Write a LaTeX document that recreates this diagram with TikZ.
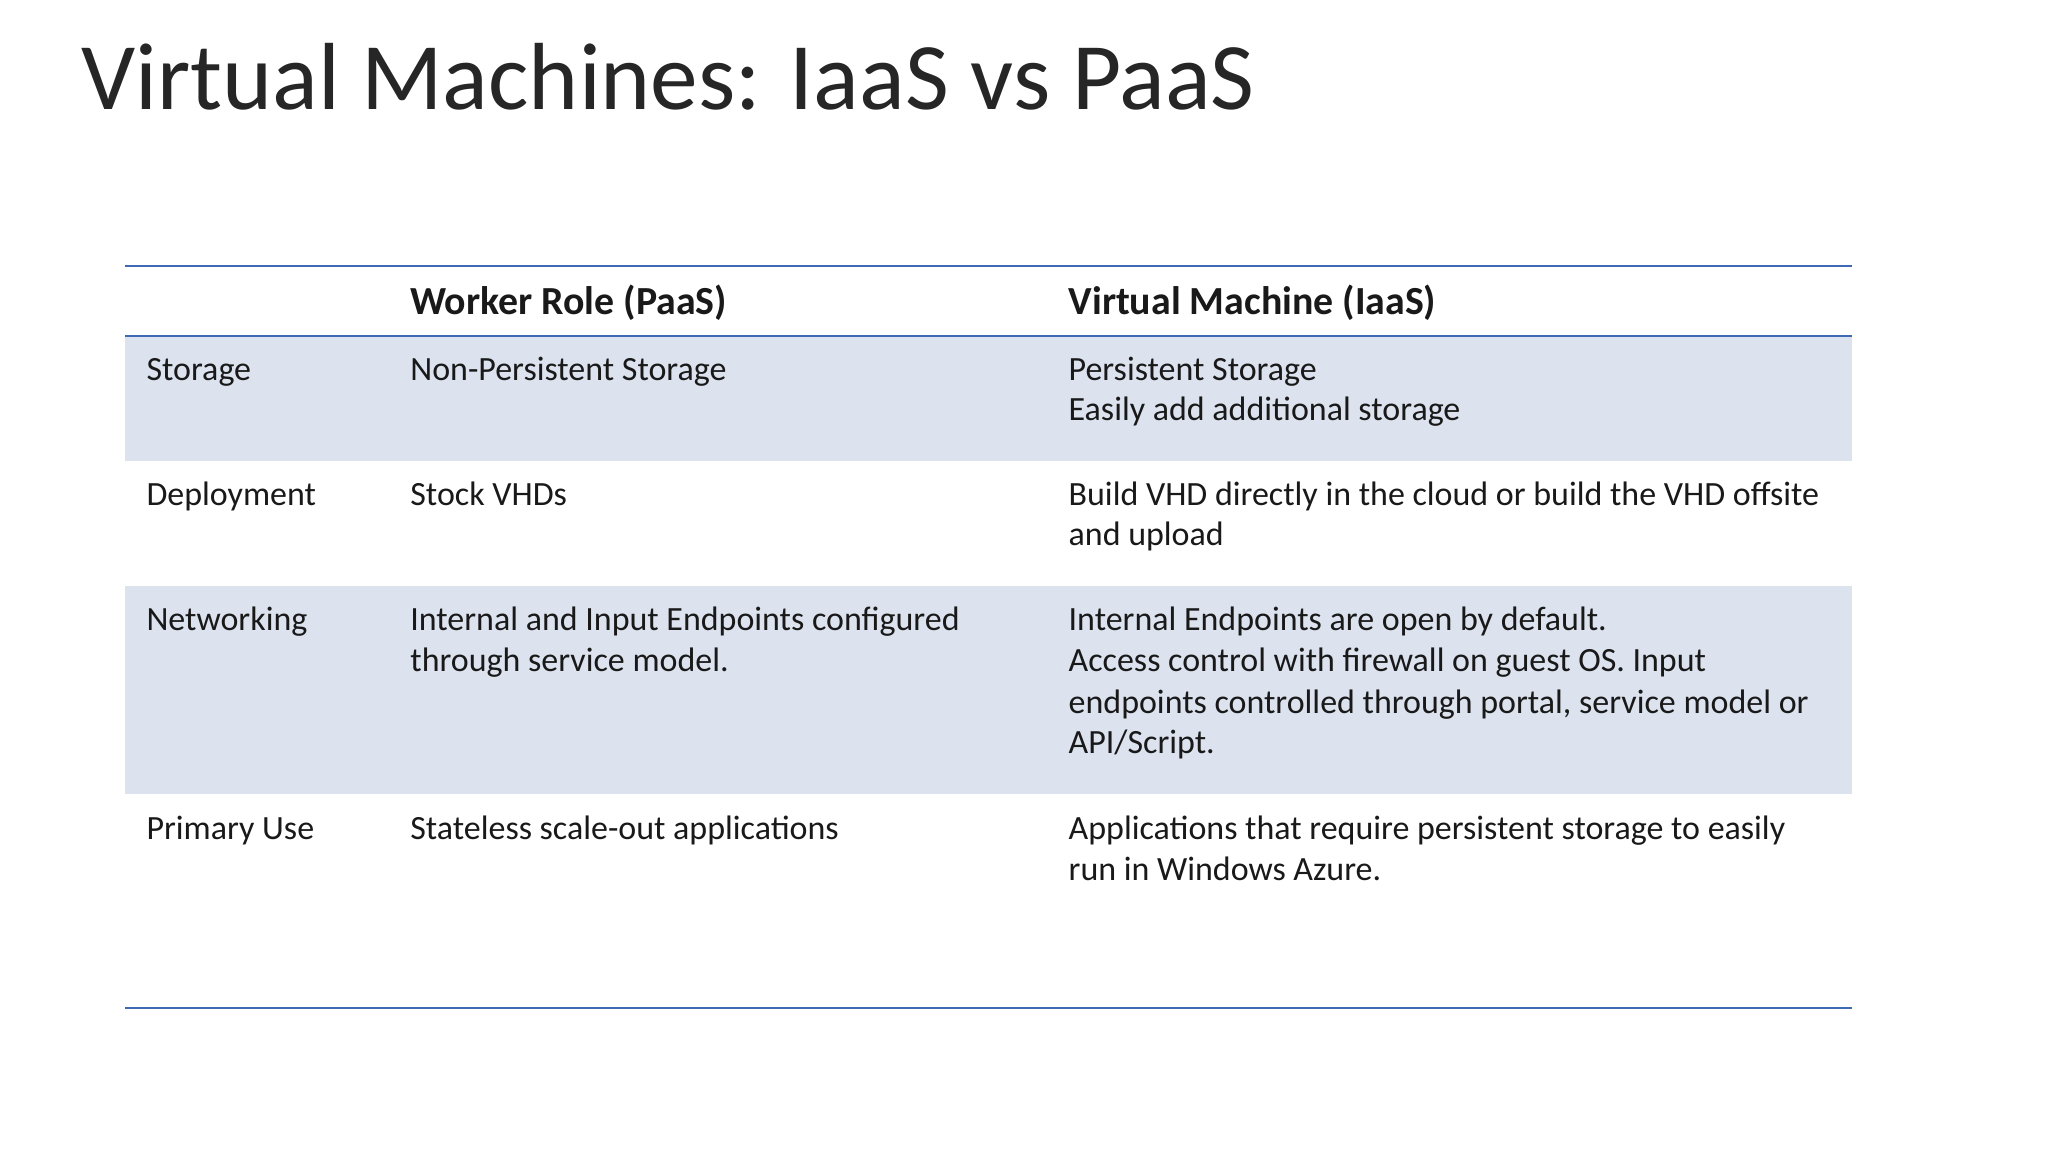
\documentclass[tikz,border=0pt]{standalone}
\usepackage{fontspec}
\setmainfont{Carlito}
\definecolor{rule}{HTML}{3F68B5}
\definecolor{band}{HTML}{DCE3EF}
\begin{document}
\begin{tikzpicture}[x=1pt,y=-1pt,
  cell/.style={anchor=base west,inner sep=0pt,font=\fontsize{26}{31}\selectfont,text=black!90},
  head/.style={cell,font=\fontsize{30.5}{31}\selectfont\bfseries}]
\useasboundingbox (0,0) rectangle (1568,882);
\fill[white] (0,0) rectangle (1568,882);
\node[anchor=base west,inner sep=0pt,font=\fontsize{73}{80}\selectfont,text=black!85] (title) at (62,84) {Virtual Machines: IaaS vs PaaS};
\fill[band] (96,257) rectangle (1418,353);
\fill[band] (96,449) rectangle (1418,608);
\draw[rule,line width=1.6pt] (96,204) -- (1418,204);
\draw[rule,line width=1.6pt] (96,257) -- (1418,257);
\draw[rule,line width=1.6pt] (96,772) -- (1418,772);
\node[head] (h1) at (314,241) {Worker Role (PaaS)};
\node[head] (h2) at (818,241) {Virtual Machine (IaaS)};
\node[cell] (s0) at (112,291) {Storage};
\node[cell] (s1) at (314,291) {Non-Persistent Storage};
\node[cell] (s2) at (818,291) {Persistent Storage};
\node[cell] (s3) at (818,322) {Easily add additional storage};
\node[cell] (d0) at (112,387) {Deployment};
\node[cell] (d1) at (314,387) {Stock VHDs};
\node[cell] (d2) at (818,387) {Build VHD directly in the cloud or build the VHD offsite};
\node[cell] (d3) at (818,418) {and upload};
\node[cell] (n0) at (112,483) {Networking};
\node[cell] (n1) at (314,483) {Internal and Input Endpoints configured};
\node[cell] (n2) at (314,514) {through service model.};
\node[cell] (n3) at (818,483) {Internal Endpoints are open by default.};
\node[cell] (n4) at (818,514) {Access control with firewall on guest OS. Input};
\node[cell] (n5) at (818,546) {endpoints controlled through portal, service model or};
\node[cell] (n6) at (818,577) {API/Script.};
\node[cell] (p0) at (112,643) {Primary Use};
\node[cell] (p1) at (314,643) {Stateless scale-out applications};
\node[cell] (p2) at (818,643) {Applications that require persistent storage to easily};
\node[cell] (p3) at (818,674) {run in Windows Azure.};
\end{tikzpicture}
\end{document}
